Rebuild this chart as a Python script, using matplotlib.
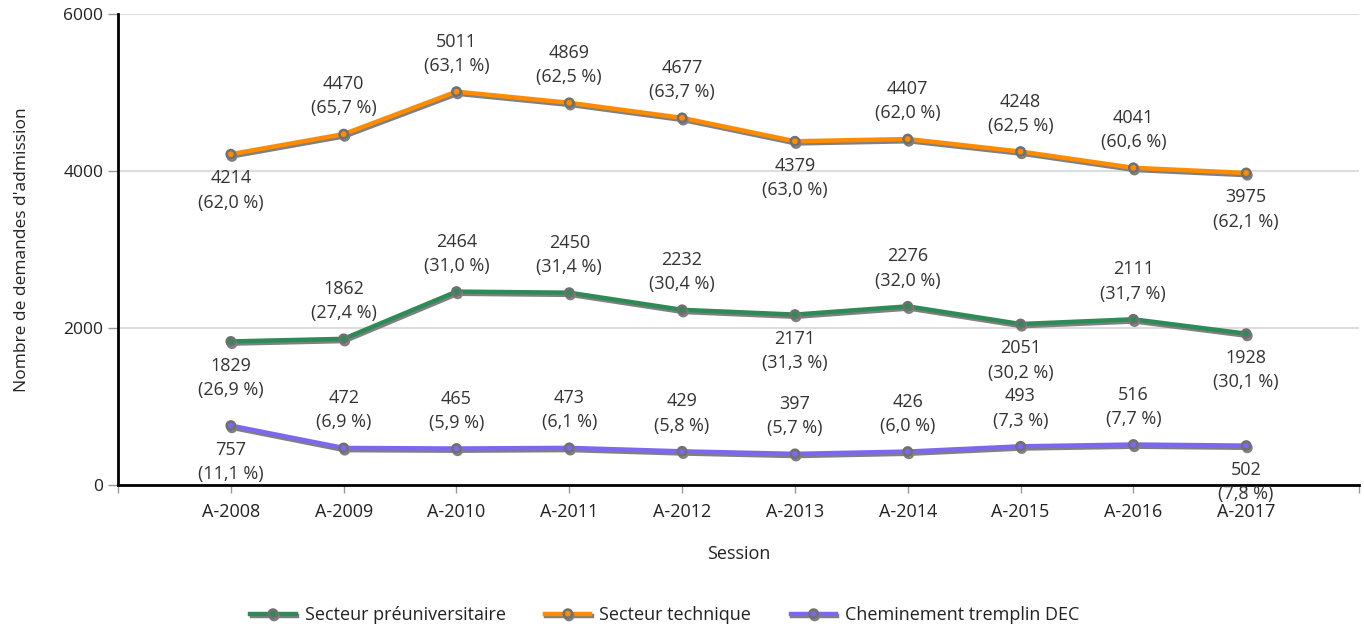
import matplotlib
matplotlib.use("Agg")
import matplotlib.pyplot as plt
import matplotlib.patheffects as pe
import numpy as np

plt.rcParams['font.family'] = ['Open Sans', 'DejaVu Sans']

sessions = ["A-2008", "A-2009", "A-2010", "A-2011", "A-2012",
            "A-2013", "A-2014", "A-2015", "A-2016", "A-2017"]

preu_vals = [1829, 1862, 2464, 2450, 2232, 2171, 2276, 2051, 2111, 1928]
preu_pct = ["26,9", "27,4", "31,0", "31,4", "30,4", "31,3", "32,0", "30,2", "31,7", "30,1"]
preu_pos = ["b", "a", "a", "a", "a", "b", "a", "b", "a", "b"]

tech_vals = [4214, 4470, 5011, 4869, 4677, 4379, 4407, 4248, 4041, 3975]
tech_pct = ["62,0", "65,7", "63,1", "62,5", "63,7", "63,0", "62,0", "62,5", "60,6", "62,1"]
tech_pos = ["b", "a", "a", "a", "a", "b", "a", "a", "a", "b"]

trem_vals = [757, 472, 465, 473, 429, 397, 426, 493, 516, 502]
trem_pct = ["11,1", "6,9", "5,9", "6,1", "5,8", "5,7", "6,0", "7,3", "7,7", "7,8"]
trem_pos = ["b", "a", "a", "a", "a", "a", "a", "a", "a", "b"]

series = [
    ("Secteur préuniversitaire", preu_vals, preu_pct, preu_pos, "#2e8b57"),
    ("Secteur technique", tech_vals, tech_pct, tech_pos, "#ff8c00"),
    ("Cheminement tremplin DEC", trem_vals, trem_pct, trem_pos, "#7b68ee"),
]

fig = plt.figure(figsize=(13.64, 6.32), dpi=100)
ax = fig.add_axes([118/1364, 1-485/632, (1359-118)/1364, (485-14)/632])

x = np.arange(len(sessions))
txtc = "#333333"
handles = []
for name, vals, pct, pos, col in series:
    ln, = ax.plot(x, vals, color=col, lw=3.2, marker="o", ms=6,
                  mfc=col, mec="#707070", mew=1.8, zorder=3,
                  path_effects=[pe.SimpleLineShadow(offset=(0.8, -1.6), shadow_color="#808080", alpha=1.0),
                                pe.Normal()])
    handles.append(ln)
    for xi, v, p, ps in zip(x, vals, pct, pos):
        if ps == "a":
            ax.annotate(f"{v}\n({p} %)", (xi, v), xytext=(0, 12), textcoords="offset points",
                        ha="center", va="bottom", fontsize=13, color=txtc, linespacing=1.45, zorder=5)
        else:
            ax.annotate(f"{v}\n({p} %)", (xi, v), xytext=(0, -11), textcoords="offset points",
                        ha="center", va="top", fontsize=13, color=txtc, linespacing=1.45, zorder=5)

ax.set_xlim(-1, len(sessions))
ax.set_ylim(0, 6000)
ax.set_yticks([0, 2000, 4000, 6000])
ax.set_xticks(x)
ax.set_xticklabels(sessions)
ax.set_xticks([-1, len(sessions)], minor=True)
ax.grid(axis="y", color="#dddddd", lw=1.5, zorder=0)
ax.set_axisbelow(True)
for s in ["top", "right"]:
    ax.spines[s].set_visible(False)
ax.spines["left"].set_linewidth(2)
ax.spines["bottom"].set_linewidth(2)
ax.tick_params(axis="y", length=7, width=1, color="#999999", labelsize=12.5, labelcolor="#222222")
ax.tick_params(axis="x", which="both", length=6, width=1, color="#999999", labelsize=13, labelcolor="#222222", pad=7)
ax.set_ylabel("Nombre de demandes d'admission", fontsize=12.5, color="#222222", labelpad=24)
ax.set_xlabel("Session", fontsize=13, color="#222222", labelpad=17)

fig.legend(handles, [s[0] for s in series], loc="center", bbox_to_anchor=(665/1364, 1-615/632),
           ncol=3, frameon=False, fontsize=13, handlelength=2.5, columnspacing=2.2, handletextpad=0.5,
           labelcolor="#222222")

fig.savefig("out.png", dpi=100)
